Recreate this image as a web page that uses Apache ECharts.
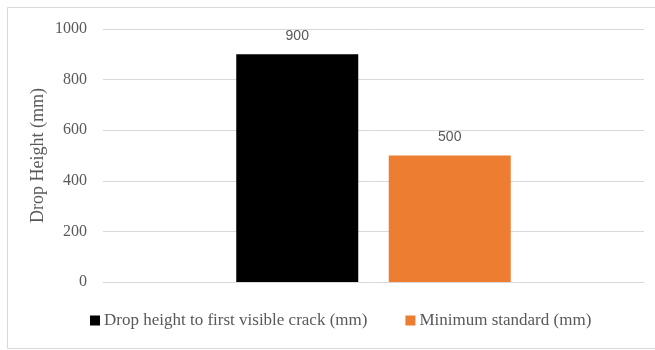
<!DOCTYPE html>
<html>
<head>
<meta charset="utf-8">
<script src="https://cdn.jsdelivr.net/npm/echarts@6/dist/echarts.min.js"></script>
<style>
  html, body { margin: 0; padding: 0; background: #fff; }
  #chart { width: 655px; height: 350px; }
</style>
</head>
<body>
<div id="chart"></div>
<script>
// Drop test result compared with the minimum required height
const categories = [''];
const seriesNames = ['Drop height to first visible crack (mm)', 'Minimum standard (mm)'];
const crackHeight = [900];
const minimumStandard = [500];
const yTicks = { min: 0, max: 1000, interval: 200 };

const serif = 'Liberation Serif';
const textColor = '#595959';

const chart = echarts.init(document.getElementById('chart'));
chart.setOption({
  animation: false,
  backgroundColor: '#ffffff',
  graphic: [{
    type: 'rect',
    shape: { x: 7.5, y: 7.5, width: 660, height: 341 },
    style: { fill: 'none', stroke: '#d9d9d9', lineWidth: 1 },
    silent: true
  }],
  grid: { left: 103, right: 11, top: 29, bottom: 68 },
  legend: {
    bottom: 16,
    left: 85,
    icon: 'rect',
    itemWidth: 10,
    itemHeight: 10,
    itemGap: 38,
    textStyle: { fontFamily: serif, fontSize: 17, color: textColor, padding: [0, 0, 0, -1] },
    data: seriesNames
  },
  xAxis: {
    type: 'category',
    data: categories,
    axisLine: { show: true, lineStyle: { color: '#d9d9d9' } },
    axisTick: { show: false },
    axisLabel: { show: false }
  },
  yAxis: {
    type: 'value',
    min: yTicks.min,
    max: yTicks.max,
    interval: yTicks.interval,
    name: 'Drop Height (mm)',
    nameLocation: 'middle',
    nameGap: 56,
    nameMoveOverlap: false,
    nameTextStyle: { fontFamily: serif, fontSize: 18, color: textColor },
    axisLine: { show: false },
    axisTick: { show: false },
    axisLabel: { fontFamily: serif, fontSize: 16, color: textColor, margin: 16, formatter: v => String(v) },
    splitLine: { lineStyle: { color: '#d9d9d9', width: 1 } }
  },
  series: [
    {
      name: seriesNames[0],
      type: 'bar',
      data: crackHeight,
      barWidth: 122,
      barGap: '25%',
      itemStyle: { color: '#000000' },
      label: { show: true, position: 'top', distance: 11, fontFamily: 'Liberation Sans', fontSize: 14, color: textColor }
    },
    {
      name: seriesNames[1],
      type: 'bar',
      data: minimumStandard,
      barWidth: 122,
      itemStyle: { color: '#ED7D31' },
      label: { show: true, position: 'top', distance: 11, fontFamily: 'Liberation Sans', fontSize: 14, color: textColor }
    }
  ]
});
</script>
</body>
</html>
